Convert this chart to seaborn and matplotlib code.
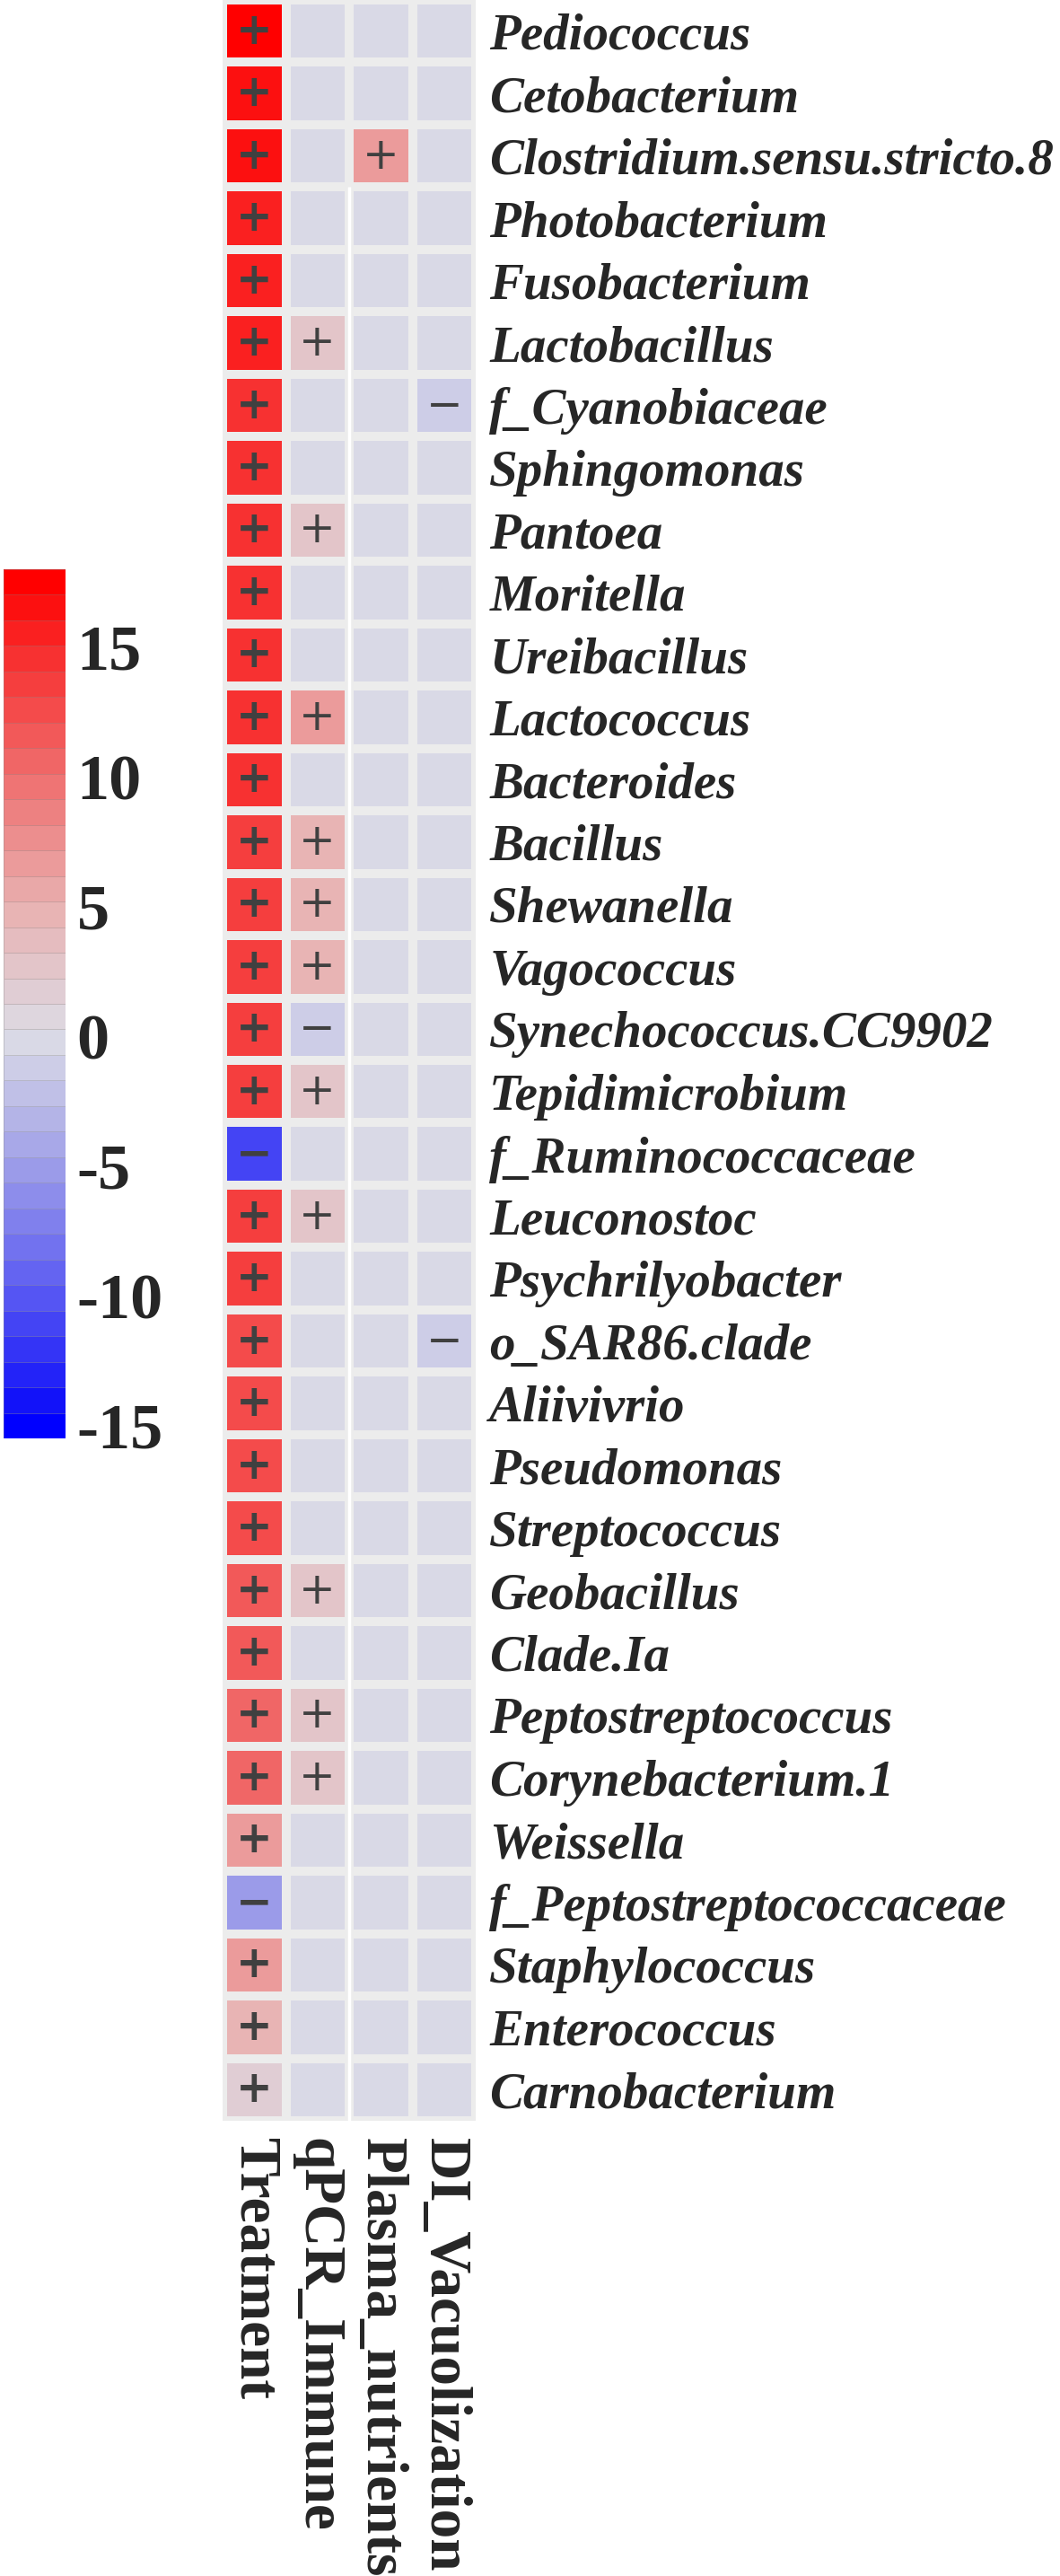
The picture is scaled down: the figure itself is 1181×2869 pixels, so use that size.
import numpy as np
import pandas as pd
import matplotlib
matplotlib.use("Agg")
import matplotlib.pyplot as plt
import seaborn as sns
from matplotlib.colors import LinearSegmentedColormap


genera = [
    "Pediococcus", "Cetobacterium", "Clostridium.sensu.stricto.8", "Photobacterium",
    "Fusobacterium", "Lactobacillus", "f_Cyanobiaceae", "Sphingomonas", "Pantoea",
    "Moritella", "Ureibacillus", "Lactococcus", "Bacteroides", "Bacillus",
    "Shewanella", "Vagococcus", "Synechococcus.CC9902", "Tepidimicrobium",
    "f_Ruminococcaceae", "Leuconostoc", "Psychrilyobacter", "o_SAR86.clade",
    "Aliivivrio", "Pseudomonas", "Streptococcus", "Geobacillus", "Clade.Ia",
    "Peptostreptococcus", "Corynebacterium.1", "Weissella",
    "f_Peptostreptococcaceae", "Staphylococcus", "Enterococcus", "Carnobacterium",
]
factors = ["Treatment", "qPCR_Immune", "Plasma_nutrients", "DI_Vacuolization"]

treatment = [18.0, 16.5, 16.4, 15.8, 15.7, 15.6, 15.0, 14.9, 14.8, 14.7, 14.6, 14.5,
             14.4, 13.5, 13.6, 13.5, 13.4, 13.3, -11.0, 13.2, 13.1, 12.4, 12.3, 12.2,
             12.1, 12.0, 11.9, 10.9, 10.8, 6.7, -5.2, 6.4, 4.8, 2.2]
qpcr_immune = [0, 0, 0, 0, 0, 2.5, 0, 0, 2.5, 0, 0, 6.5, 0, 4.5, 4.5, 4.5, -1.7, 2.5,
               0, 2.5, 0, 0, 0, 0, 0, 3.0, 0, 2.8, 2.8, 0, 0, 0, 0, 0]
plasma_nutrients = [0, 0, 6.5, 0, 0, 0, 0, 0, 0, 0, 0, 0, 0, 0, 0, 0, 0, 0,
                    0, 0, 0, 0, 0, 0, 0, 0, 0, 0, 0, 0, 0, 0, 0, 0]
di_vacuolization = [0, 0, 0, 0, 0, 0, -1.5, 0, 0, 0, 0, 0, 0, 0, 0, 0, 0, 0,
                    0, 0, 0, -1.5, 0, 0, 0, 0, 0, 0, 0, 0, 0, 0, 0, 0]

cbar_ticks = [-15, -10, -5, 0, 5, 10, 15]
cbar_labels = ["-15", "-10", "-5", "0", "5", "10", "15"]

VMIN, VMAX = -15.5, 18.0

df = pd.DataFrame(
    {"Treatment": treatment, "qPCR_Immune": qpcr_immune,
     "Plasma_nutrients": plasma_nutrients, "DI_Vacuolization": di_vacuolization},
    index=genera,
)[factors]

signs = np.where(df.values > 0, "+", np.where(df.values < 0, "\u2212", ""))

# blue - grey - red, stepped like the original legend
anchors = [
    (-15.5, (0, 0, 255)), (-15, (10, 10, 250)), (-10, (92, 92, 242)),
    (-5, (160, 160, 232)), (0, (220, 220, 230)), (5, (232, 178, 178)),
    (10, (239, 114, 114)), (15, (247, 48, 48)), (18, (255, 0, 0)),
]
cmap = LinearSegmentedColormap.from_list(
    "bgr",
    [((v - VMIN) / (VMAX - VMIN), tuple(c / 255 for c in rgb)) for v, rgb in anchors],
    N=34,
)

sns.set_style("white")
plt.rcParams["font.family"] = ["Liberation Serif", "DejaVu Serif"]

W, H = 1181, 2869
fig = plt.figure(figsize=(W / 100, H / 100), dpi=100)
ax = fig.add_axes([248 / W, 1 - 2362 / H, 282 / W, 2362 / H])
cax = fig.add_axes([4 / W, 1 - 1602 / H, 69 / W, (1602 - 634) / H])

sns.heatmap(
    df,
    ax=ax,
    cbar_ax=cax,
    cmap=cmap,
    vmin=VMIN,
    vmax=VMAX,
    annot=signs,
    fmt="",
    annot_kws={"color": "#404040", "fontsize": 35, "family": "DejaVu Sans"},
    linewidths=7,
    linecolor="#ececec",
)

for t in ax.texts:
    x, _ = t.get_position()
    if x < 1:
        t.set_fontweight("bold")

# seam between the two merged panels
ax.vlines(2, 3, len(genera), color="white", lw=2.5)

ax.yaxis.tick_right()
ax.set_yticks(np.arange(len(genera)) + 0.5)
ax.set_yticklabels(genera, rotation=0, ha="left", fontsize=41,
                   fontstyle="italic", fontweight="bold")
ax.set_xticks(np.arange(len(factors)) + 0.5)
ax.set_xticklabels(factors, rotation=270, ha="center", va="top",
                   fontsize=47, fontweight="bold")
ax.tick_params(axis="y", length=0, pad=11)
ax.tick_params(axis="x", length=0, pad=14)
ax.set_xlabel("")
ax.set_ylabel("")

cbar = ax.collections[0].colorbar
cbar.outline.set_visible(False)
cbar.set_ticks(cbar_ticks)
cbar.set_ticklabels(cbar_labels)
cbar.ax.tick_params(length=0, pad=9)
for lab in cbar.ax.get_yticklabels():
    lab.set_fontsize(52)
    lab.set_fontweight("bold")
cbar.solids.set_edgecolor((0.55, 0.55, 0.55, 0.35))
cbar.solids.set_linewidth(0.6)

fig.savefig("out.png", dpi=100)
plt.close()
